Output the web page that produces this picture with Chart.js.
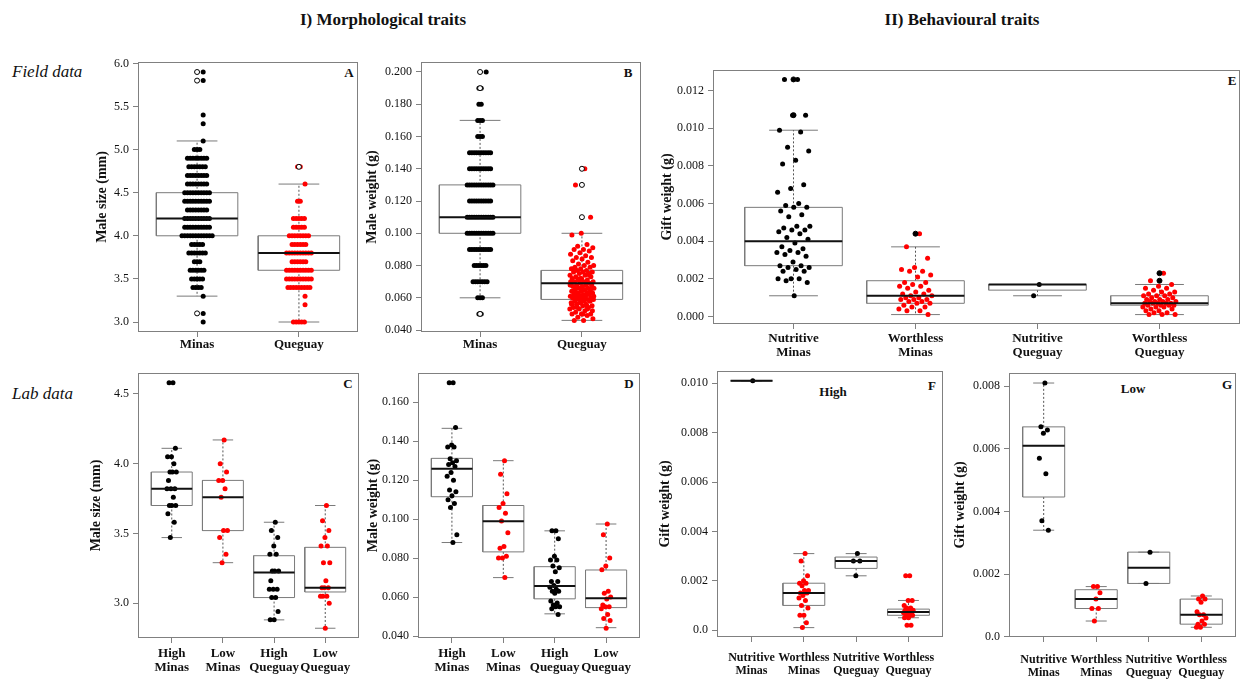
<!DOCTYPE html>
<html>
<head>
<meta charset="utf-8">
<script src="https://cdn.jsdelivr.net/npm/chart.js@4.4.1/dist/chart.umd.min.js"></script>
<style>
body { margin: 0; width: 1252px; height: 680px; overflow: hidden; background: #fff; position: relative;
       font-family: 'Liberation Serif', 'DejaVu Serif', serif; color: #111; }
canvas { position: absolute; }
.t { position: absolute; transform: translate(-50%, -50%); white-space: nowrap; }
.head { font-weight: bold; font-size: 17px; }
.side { font-style: italic; font-size: 17px; transform: translate(0, -50%); }
.tag { font-weight: bold; font-size: 13px; }
</style>
</head>
<body>
<div class="t head" style="left:383px;top:20px">I) Morphological traits</div>
<div class="t head" style="left:962px;top:20px">II) Behavioural traits</div>
<div class="t side" style="left:12px;top:72px">Field data</div>
<div class="t side" style="left:12px;top:394px">Lab data</div>
<div class="t tag" style="left:349px;top:73px">A</div>
<div class="t tag" style="left:628px;top:73px">B</div>
<div class="t tag" style="left:1232px;top:81px">E</div>
<div class="t tag" style="left:348px;top:384px">C</div>
<div class="t tag" style="left:629px;top:384px">D</div>
<div class="t tag" style="left:932px;top:386px">F</div>
<div class="t tag" style="left:1227px;top:385px">G</div>
<div class="t tag" style="left:833px;top:392px">High</div>
<div class="t tag" style="left:1133px;top:389px">Low</div>
<script>
// ---- data: stats are [lower whisker, Q1, median, Q3, upper whisker] ----
var twoCats = ['Minas', 'Queguay'];
var labCats = [['High', 'Minas'], ['Low', 'Minas'], ['High', 'Queguay'], ['Low', 'Queguay']];
var giftCats = [['Nutritive', 'Minas'], ['Worthless', 'Minas'], ['Nutritive', 'Queguay'], ['Worthless', 'Queguay']];

// A - field male size
var aStats = [[3.3, 4.0, 4.2, 4.5, 5.1], [3.0, 3.6, 3.8, 4.0, 4.6]];
var aMinasRows = [5.9, 5.8, 5.4, 5.3, 5.1, 5.0, 4.9, 4.8, 4.7, 4.6, 4.5, 4.4, 4.3, 4.2, 4.1, 4.0, 3.9, 3.8, 3.7, 3.6, 3.5, 3.4, 3.3, 3.1, 3.0];
var aMinasCounts = [1, 1, 1, 1, 1, 3, 8, 7, 8, 8, 10, 10, 8, 10, 10, 12, 5, 7, 3, 6, 5, 4, 1, 1, 1];
var aQueguayRows = [4.8, 4.6, 4.4, 4.2, 4.1, 4.0, 3.9, 3.8, 3.7, 3.6, 3.5, 3.4, 3.3, 3.2, 3.0];
var aQueguayCounts = [2, 1, 2, 5, 5, 8, 6, 10, 6, 10, 10, 9, 1, 1, 5];
var aOutliers = [[5.9, 5.8, 3.1], [4.8]];
var aTicks = ['3.0', '3.5', '4.0', '4.5', '5.0', '5.5', '6.0'];

// B - field male weight
var bStats = [[0.060, 0.100, 0.110, 0.130, 0.170], [0.046, 0.059, 0.069, 0.077, 0.100]];
var bMinasRows = [0.200, 0.190, 0.180, 0.170, 0.160, 0.150, 0.140, 0.130, 0.120, 0.110, 0.100, 0.090, 0.080, 0.070, 0.060, 0.050];
var bMinasCounts = [1, 2, 2, 3, 3, 10, 10, 12, 10, 12, 12, 10, 6, 7, 3, 2];
var bQueguay = [0.140, 0.130, 0.110, 0.100, 0.099, 0.093, 0.092, 0.091, 0.090, 0.090, 0.089, 0.088, 0.087, 0.086,
    0.085, 0.085, 0.084, 0.083, 0.082, 0.081, 0.080, 0.080, 0.079, 0.079, 0.078, 0.078, 0.077, 0.077, 0.076,
    0.076, 0.076, 0.075, 0.075, 0.074, 0.074, 0.073, 0.073, 0.072, 0.072, 0.071, 0.071, 0.070, 0.070, 0.070,
    0.069, 0.069, 0.068, 0.068, 0.068, 0.068, 0.067, 0.067, 0.066, 0.066, 0.066, 0.065, 0.065, 0.064, 0.064,
    0.064, 0.063, 0.063, 0.063, 0.062, 0.062, 0.062, 0.061, 0.061, 0.061, 0.060, 0.060, 0.060, 0.060, 0.059,
    0.059, 0.059, 0.058, 0.058, 0.058, 0.057, 0.057, 0.056, 0.056, 0.055, 0.055, 0.054, 0.054, 0.053, 0.053,
    0.052, 0.051, 0.050, 0.050, 0.050, 0.049, 0.048, 0.047, 0.046, 0.046, 0.074, 0.072, 0.070, 0.069, 0.067,
    0.066, 0.065, 0.064, 0.063, 0.062, 0.061, 0.060, 0.059, 0.058, 0.057, 0.056, 0.055, 0.054, 0.052, 0.050,
    0.078, 0.075, 0.071, 0.068, 0.065, 0.062, 0.060, 0.058, 0.056, 0.053];
var bOutliers = [[0.200, 0.190, 0.050], [0.140, 0.130, 0.110]];
var bTicks = ['0.040', '0.060', '0.080', '0.100', '0.120', '0.140', '0.160', '0.180', '0.200'];

// E - field gift weight
var eStats = [[0.0011, 0.0027, 0.0040, 0.0058, 0.0099], [0.0001, 0.0007, 0.0011, 0.0019, 0.0037],
    [0.0011, 0.0014, 0.0017, 0.0017, 0.0017], [0.0001, 0.0006, 0.0007, 0.0011, 0.0017]];
var eNutMinas = [0.0126, 0.0126, 0.0107, 0.0107, 0.0099, 0.0098, 0.0090, 0.0088, 0.0083, 0.0081, 0.0070, 0.0068,
    0.0066, 0.0060, 0.0059, 0.0058, 0.0058, 0.0056, 0.0054, 0.0053, 0.0048, 0.0048, 0.0047, 0.0046, 0.0046, 0.0045,
    0.0044, 0.0042, 0.0041, 0.0039, 0.0037, 0.0036, 0.0035, 0.0034, 0.0034, 0.0033, 0.0032, 0.0029, 0.0027, 0.0027,
    0.0026, 0.0026, 0.0025, 0.0024, 0.0024, 0.0020, 0.0020, 0.0020, 0.0019, 0.0018, 0.0011];
var eWorMinas = [0.0044, 0.0037, 0.0031, 0.0026, 0.0025, 0.0024, 0.0024, 0.0022, 0.0021, 0.0018, 0.0018, 0.0017,
    0.0016, 0.0016, 0.0015, 0.0014, 0.0013, 0.0012, 0.0012, 0.0011, 0.0011, 0.0010, 0.0010, 0.0009, 0.0009, 0.0009,
    0.0008, 0.0008, 0.0007, 0.0007, 0.0006, 0.0005, 0.0005, 0.0004, 0.0003, 0.0003, 0.0001];
var eNutQueguay = [0.0017, 0.0011];
var eWorQueguay = [0.0023, 0.0019, 0.0017, 0.0016, 0.0015, 0.0015, 0.0014, 0.0013, 0.0013, 0.0012, 0.0012, 0.0011,
    0.0011, 0.0011, 0.0010, 0.0010, 0.0009, 0.0009, 0.0009, 0.0008, 0.0008, 0.0008, 0.0008, 0.0007, 0.0007, 0.0007,
    0.0007, 0.0007, 0.0006, 0.0006, 0.0006, 0.0006, 0.0005, 0.0005, 0.0005, 0.0004, 0.0004, 0.0003, 0.0003, 0.0002,
    0.0002, 0.0001, 0.0001, 0.0001];
var eOutliers = [[0.0126, 0.0107], [0.0044], [], [0.0023, 0.0019]];
var eTicks = ['0.000', '0.002', '0.004', '0.006', '0.008', '0.010', '0.012'];

// C - lab male size
var cStats = [[3.47, 3.70, 3.82, 3.94, 4.11], [3.29, 3.52, 3.76, 3.88, 4.17], [2.88, 3.04, 3.22, 3.34, 3.58], [2.82, 3.08, 3.11, 3.40, 3.70]];
var cHighMinas = [4.58, 4.58, 4.11, 4.05, 4.05, 4.00, 3.94, 3.94, 3.94, 3.88, 3.82, 3.82, 3.82, 3.76, 3.70, 3.70, 3.70, 3.64, 3.58, 3.47];
var cLowMinas = [4.17, 4.00, 3.94, 3.88, 3.88, 3.82, 3.76, 3.52, 3.52, 3.47, 3.35, 3.29];
var cHighQueguay = [3.58, 3.52, 3.47, 3.41, 3.35, 3.35, 3.23, 3.23, 3.23, 3.16, 3.10, 3.10, 3.10, 3.04, 3.04, 2.94, 2.88, 2.88];
var cLowQueguay = [3.70, 3.59, 3.52, 3.47, 3.41, 3.41, 3.29, 3.29, 3.16, 3.11, 3.11, 3.11, 3.05, 3.05, 3.05, 3.00, 2.82];
var cTicks = ['3.0', '3.5', '4.0', '4.5'];

// D - lab male weight
var dStats = [[0.088, 0.1115, 0.1258, 0.1312, 0.1466], [0.070, 0.0832, 0.0989, 0.107, 0.130],
    [0.0514, 0.0591, 0.0657, 0.0756, 0.094], [0.0443, 0.0546, 0.0594, 0.0739, 0.0975]];
var dHighMinas = [0.170, 0.170, 0.147, 0.138, 0.137, 0.137, 0.131, 0.130, 0.129, 0.128, 0.127, 0.124, 0.122, 0.120,
    0.115, 0.114, 0.112, 0.110, 0.108, 0.106, 0.092, 0.088];
var dLowMinas = [0.130, 0.123, 0.113, 0.108, 0.106, 0.103, 0.099, 0.093, 0.086, 0.085, 0.081, 0.080, 0.080, 0.070];
var dHighQueguay = [0.094, 0.094, 0.090, 0.081, 0.079, 0.079, 0.076, 0.075, 0.073, 0.068, 0.068, 0.066, 0.065, 0.064,
    0.063, 0.063, 0.062, 0.058, 0.057, 0.056, 0.055, 0.055, 0.054, 0.051];
var dLowQueguay = [0.0975, 0.092, 0.080, 0.076, 0.074, 0.063, 0.062, 0.060, 0.059, 0.056, 0.055, 0.055, 0.054, 0.051, 0.049, 0.048, 0.044];
var dTicks = ['0.040', '0.060', '0.080', '0.100', '0.120', '0.140', '0.160'];

// F - gift weight, high
var fStats = [[0.0101, 0.0101, 0.0101, 0.0101, 0.0101], [0.0001, 0.0010, 0.0015, 0.0019, 0.0031],
    [0.0022, 0.0025, 0.0028, 0.00296, 0.0031], [0.0005, 0.0006, 0.00073, 0.00085, 0.0012]];
var fNutMinas = [0.0101];
var fWorMinas = [0.0031, 0.0028, 0.0022, 0.0020, 0.0019, 0.0019, 0.0018, 0.0016, 0.0016, 0.0015, 0.0015, 0.0014,
    0.0013, 0.0012, 0.0010, 0.0009, 0.0006, 0.0006, 0.0003, 0.0001];
var fNutQueguay = [0.0031, 0.0028, 0.0028, 0.0022];
var fWorQueguay = [0.0022, 0.0022, 0.0012, 0.0012, 0.0010, 0.0009, 0.0009, 0.0008, 0.0008, 0.0008, 0.0007, 0.0007,
    0.0007, 0.0006, 0.0006, 0.0006, 0.0005, 0.0005, 0.0002, 0.0002];
var fTicks = ['0.0', '0.002', '0.004', '0.006', '0.008', '0.010'];

// G - gift weight, low
var gStats = [[0.0034, 0.00446, 0.0061, 0.0067, 0.0081], [0.0005, 0.0009, 0.0012, 0.0015, 0.0016],
    [0.0017, 0.0017, 0.0022, 0.0027, 0.0027], [0.0003, 0.0004, 0.0007, 0.0012, 0.0013]];
var gNutMinas = [0.0081, 0.0067, 0.0066, 0.0065, 0.0057, 0.0052, 0.0037, 0.0034];
var gWorMinas = [0.0016, 0.0016, 0.0014, 0.0012, 0.0009, 0.0009, 0.0005];
var gNutQueguay = [0.0027, 0.0017];
var gWorQueguay = [0.0013, 0.0012, 0.0012, 0.0011, 0.0008, 0.0007, 0.0007, 0.0006, 0.0005, 0.0004, 0.0004, 0.0003, 0.0003];
var gTicks = ['0.0', '0.002', '0.004', '0.006', '0.008'];

// ---- drawing ----
var BLACK = '#000000', RED = '#ff0000';
Chart.defaults.font.family = "'Liberation Serif', 'DejaVu Serif', serif";

function jit(k, amp) {
    return ((k * 0.618034) % 1 - 0.5) * 2 * amp;
}

// dots of a discrete variable, laid side by side on each value
function rowPoints(rows, counts, pos, step) {
    var pts = [];
    rows.forEach(function (v, r) {
        var n = counts[r];
        var shift = n == 1 ? 0.06 : 0;
        for (var k = 0; k < n; k++) {
            pts.push({x: pos + shift + (k - (n - 1) / 2) * step, y: v});
        }
    });
    return pts;
}

function jitterPoints(vals, pos, amp) {
    return vals.map(function (v, k) {
        return {x: pos + jit(k + 1, amp), y: v};
    });
}

function boxLines(stats) {
    var box = [], med = [], whisk = [], caps = [];
    stats.forEach(function (s, i) {
        var c = i + 1, w = 0.4, cw = 0.2;
        box.push({x: c - w, y: s[1]}, {x: c + w, y: s[1]}, {x: c + w, y: s[3]}, {x: c - w, y: s[3]}, {x: c - w, y: s[1]}, {x: c, y: null});
        med.push({x: c - w, y: s[2]}, {x: c + w, y: s[2]}, {x: c, y: null});
        whisk.push({x: c, y: s[3]}, {x: c, y: s[4]}, {x: c, y: null}, {x: c, y: s[1]}, {x: c, y: s[0]}, {x: c, y: null});
        caps.push({x: c - cw, y: s[4]}, {x: c + cw, y: s[4]}, {x: c, y: null}, {x: c - cw, y: s[0]}, {x: c + cw, y: s[0]}, {x: c, y: null});
    });
    return {box: box, med: med, whisk: whisk, caps: caps};
}

var framePlugin = {
    id: 'frame',
    beforeDatasetsDraw: function (chart) {
        var a = chart.chartArea, ctx = chart.ctx;
        ctx.save();
        ctx.strokeStyle = '#808080';
        ctx.lineWidth = 1;
        ctx.strokeRect(Math.round(a.left) + 0.5, Math.round(a.top) + 0.5, Math.round(a.right - a.left) - 1, Math.round(a.bottom - a.top) - 1);
        ctx.restore();
    }
};

function makePanel(p) {
    var padTop = 12, padRight = 10, axisW = 75, axisH = 50;
    var w = p.R - p.L + axisW + padRight, h = p.B - p.T + padTop + axisH;
    var cv = document.createElement('canvas');
    cv.width = w; cv.height = h;
    cv.style.left = (p.L - axisW) + 'px';
    cv.style.top = (p.T - padTop) + 'px';
    cv.style.width = w + 'px';
    cv.style.height = h + 'px';
    document.body.appendChild(cv);

    var n = p.cats.length, ext = 0.04 * n;
    var lines = boxLines(p.stats);
    var datasets = [
        {data: lines.box, showLine: true, borderColor: '#7a7a7a', borderWidth: 1, pointRadius: 0, order: 5},
        {data: lines.whisk, showLine: true, borderColor: '#555555', borderWidth: 1, borderDash: [2, 2], pointRadius: 0, order: 5},
        {data: lines.caps, showLine: true, borderColor: '#7a7a7a', borderWidth: 1, pointRadius: 0, order: 5},
        {data: lines.med, showLine: true, borderColor: '#111111', borderWidth: 2, pointRadius: 0, order: 0}
    ];
    p.groups.forEach(function (g) {
        datasets.push({data: g.pts, pointRadius: 2.5, backgroundColor: g.color, borderWidth: 0, order: 2});
    });
    if (p.outliers) {
        var outPts = [];
        p.outliers.forEach(function (vals, i) {
            vals.forEach(function (v) { outPts.push({x: i + 1, y: v}); });
        });
        datasets.push({data: outPts, pointRadius: 2.5, backgroundColor: p.outFill, borderColor: BLACK, borderWidth: 1, order: 1});
    }

    var tickGrid = {drawOnChartArea: false, drawTicks: true, tickLength: 5, color: '#808080'};
    new Chart(cv, {
        type: 'scatter',
        data: {datasets: datasets},
        options: {
            responsive: false,
            animation: false,
            events: [],
            layout: {padding: {top: padTop, right: padRight, left: 0, bottom: 0}},
            plugins: {legend: {display: false}, tooltip: {enabled: false}},
            scales: {
                x: {
                    type: 'linear', min: 0.5 - ext, max: n + 0.5 + ext,
                    afterBuildTicks: function (s) { s.ticks = p.cats.map(function (c, i) { return {value: i + 1}; }); },
                    afterFit: function (s) { s.height = axisH; },
                    ticks: {autoSkip: false, maxRotation: 0, minRotation: 0, padding: p.xPad, color: '#111',
                        font: {size: p.xFont || 13, weight: 'bold', lineHeight: 1.1},
                        callback: function (v, i) { return p.cats[i]; }},
                    grid: tickGrid,
                    border: {display: false}
                },
                y: {
                    type: 'linear', min: p.yMin, max: p.yMax,
                    afterBuildTicks: function (s) { s.ticks = p.yTicks.map(function (t) { return {value: parseFloat(t)}; }); },
                    afterFit: function (s) { s.width = axisW; },
                    ticks: {padding: 4, color: '#111', font: {size: 12},
                        callback: function (v, i) { return p.yTicks[i]; }},
                    grid: tickGrid,
                    border: {display: false},
                    title: {display: true, text: p.yTitle, color: '#111', font: {size: 14, weight: 'bold', lineHeight: 1.2},
                        padding: {top: p.titleX - (p.L - axisW) - 8.4, bottom: 0}}
                }
            }
        },
        plugins: [framePlugin]
    });
}

makePanel({L: 138, T: 62, R: 358, B: 332, cats: twoCats, stats: aStats, yMin: 2.884, yMax: 6.016, yTicks: aTicks,
    yTitle: 'Male size (mm)', titleX: 102, xPad: 0, outliers: aOutliers, outFill: '#ffffff',
    groups: [{pts: rowPoints(aMinasRows, aMinasCounts, 1, 0.027), color: BLACK},
             {pts: rowPoints(aQueguayRows, aQueguayCounts, 2, 0.027), color: RED}]});

makePanel({L: 421, T: 62, R: 641, B: 332, cats: twoCats, stats: bStats, yMin: 0.0388, yMax: 0.2062, yTicks: bTicks,
    yTitle: 'Male weight (g)', titleX: 372, xPad: 0, outliers: bOutliers, outFill: '#ffffff',
    groups: [{pts: rowPoints(bMinasRows, bMinasCounts, 1, 0.023), color: BLACK},
             {pts: jitterPoints(bQueguay, 2, 0.12), color: RED}]});

makePanel({L: 713, T: 70, R: 1240, B: 324, cats: giftCats, stats: eStats, yMin: -0.0004, yMax: 0.0131, yTicks: eTicks,
    yTitle: 'Gift weight (g)', titleX: 667, xPad: 2, outliers: eOutliers, outFill: BLACK,
    groups: [{pts: jitterPoints(eNutMinas, 1, 0.14), color: BLACK},
             {pts: jitterPoints(eWorMinas, 2, 0.14), color: RED},
             {pts: jitterPoints(eNutQueguay, 3, 0.06), color: BLACK},
             {pts: jitterPoints(eWorQueguay, 4, 0.14), color: RED}]});

makePanel({L: 138, T: 373, R: 359, B: 638, cats: labCats, stats: cStats, yMin: 2.75, yMax: 4.65, yTicks: cTicks,
    yTitle: 'Male size (mm)', titleX: 96, xPad: 3,
    groups: [{pts: jitterPoints(cHighMinas, 1, 0.1), color: BLACK},
             {pts: jitterPoints(cLowMinas, 2, 0.1), color: RED},
             {pts: jitterPoints(cHighQueguay, 3, 0.1), color: BLACK},
             {pts: jitterPoints(cLowQueguay, 4, 0.1), color: RED}]});

makePanel({L: 418, T: 373, R: 640, B: 638, cats: labCats, stats: dStats, yMin: 0.039, yMax: 0.175, yTicks: dTicks,
    yTitle: 'Male weight (g)', titleX: 373, xPad: 3,
    groups: [{pts: jitterPoints(dHighMinas, 1, 0.1), color: BLACK},
             {pts: jitterPoints(dLowMinas, 2, 0.1), color: RED},
             {pts: jitterPoints(dHighQueguay, 3, 0.1), color: BLACK},
             {pts: jitterPoints(dLowQueguay, 4, 0.1), color: RED}]});

makePanel({L: 717, T: 371, R: 943, B: 637, cats: giftCats, stats: fStats, yMin: -0.00028, yMax: 0.0105, yTicks: fTicks,
    yTitle: 'Gift weight (g)', titleX: 665, xPad: 9, xFont: 12,
    groups: [{pts: jitterPoints(fNutMinas, 1, 0.1), color: BLACK},
             {pts: jitterPoints(fWorMinas, 2, 0.1), color: RED},
             {pts: jitterPoints(fNutQueguay, 3, 0.1), color: BLACK},
             {pts: jitterPoints(fWorQueguay, 4, 0.1), color: RED}]});

makePanel({L: 1009, T: 373, R: 1236, B: 637, cats: giftCats, stats: gStats, yMin: -0.00001, yMax: 0.00842, yTicks: gTicks,
    yTitle: 'Gift weight (g)', titleX: 960, xPad: 11, xFont: 12,
    groups: [{pts: jitterPoints(gNutMinas, 1, 0.1), color: BLACK},
             {pts: jitterPoints(gWorMinas, 2, 0.1), color: RED},
             {pts: jitterPoints(gNutQueguay, 3, 0.1), color: BLACK},
             {pts: jitterPoints(gWorQueguay, 4, 0.1), color: RED}]});
</script>
</body>
</html>
